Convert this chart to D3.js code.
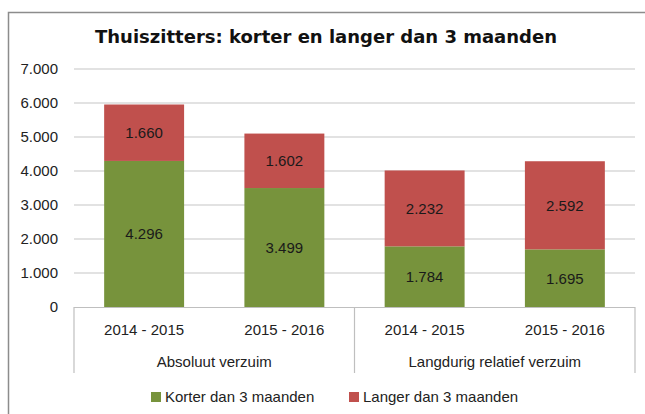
<!DOCTYPE html>
<html>
<head>
<meta charset="utf-8">
<script src="https://cdnjs.cloudflare.com/ajax/libs/d3/7.8.5/d3.min.js"></script>
<style>
  body { margin: 0; background: #fff; }
  svg text { font-family: "Liberation Sans", Arial, sans-serif; fill: #222; }
</style>
</head>
<body>
<div id="chart"></div>
<script>
// chart data
var categories = ["2014 - 2015", "2015 - 2016", "2014 - 2015", "2015 - 2016"];
var groups = ["Absoluut verzuim", "Langdurig relatief verzuim"];
var korter = [4296, 3499, 1784, 1695];
var langer = [1660, 1602, 2232, 2592];
var seriesNames = ["Korter dan 3 maanden", "Langer dan 3 maanden"];
var yTicks = [0, 1000, 2000, 3000, 4000, 5000, 6000, 7000];

var W = 645, H = 414;
var colors = ["#77933c", "#c0504d"];
var nl = d3.formatLocale({ decimal: ",", thousands: ".", grouping: [3], currency: ["€", ""] });
var fmt = nl.format(",");

var svg = d3.select("#chart").append("svg")
  .attr("width", W).attr("height", H);

// outer frame (only top and left visible)
svg.append("path")
  .attr("d", "M8.5," + (H + 2) + "V12.5H" + (W + 2))
  .attr("fill", "none").attr("stroke", "#8c8c8c").attr("stroke-width", 1.5);

// title
svg.append("text")
  .attr("x", 326).attr("y", 43)
  .attr("text-anchor", "middle")
  .style("font-family", "'DejaVu Sans', Verdana, sans-serif")
  .style("font-weight", "bold").style("font-size", "18px")
  .style("fill", "#111")
  .text("Thuiszitters: korter en langer dan 3 maanden");

var left = 74, right = 635;
var x = d3.scaleBand().domain(d3.range(categories.length))
  .range([left, right]).paddingInner(0.43).paddingOuter(0.215);
var y = d3.scaleLinear().domain([0, 7000]).range([307, 69]);

// gridlines
svg.append("g").selectAll("line")
  .data(yTicks.filter(function (d) { return d > 0; }))
  .enter().append("line")
  .attr("x1", left).attr("x2", right)
  .attr("y1", function (d) { return y(d); }).attr("y2", function (d) { return y(d); })
  .attr("stroke", "#d9d9d9").attr("stroke-width", 1.5);

// y axis labels
var yAxis = svg.append("g")
  .attr("transform", "translate(" + left + ",0)")
  .call(d3.axisLeft(y).tickValues(yTicks).tickSize(0).tickPadding(16).tickFormat(fmt));
yAxis.select(".domain").remove();
yAxis.selectAll("text").style("font-size", "15px").style("fill", "#222")
  .style("font-family", "'Liberation Sans', Arial, sans-serif");

// stacked bars
var stackData = categories.map(function (c, i) { return { i: i, korter: korter[i], langer: langer[i] }; });
var stack = d3.stack().keys(["korter", "langer"])(stackData);

var layers = svg.append("g").selectAll("g")
  .data(stack).enter().append("g")
  .attr("fill", function (d, k) { return colors[k]; });

layers.selectAll("rect")
  .data(function (d) { return d; })
  .enter().append("rect")
  .attr("x", function (d) { return x(d.data.i); })
  .attr("width", x.bandwidth())
  .attr("y", function (d) { return y(d[1]); })
  .attr("height", function (d) { return y(d[0]) - y(d[1]); });

layers.selectAll("text")
  .data(function (d) { return d; })
  .enter().append("text")
  .attr("x", function (d) { return x(d.data.i) + x.bandwidth() / 2; })
  .attr("y", function (d) { return (y(d[0]) + y(d[1])) / 2; })
  .attr("dy", "0.36em")
  .attr("text-anchor", "middle")
  .style("font-size", "15px").style("fill", "#1a1a1a")
  .text(function (d) { return fmt(d[1] - d[0]); });

// x axis (two levels)
var axis = svg.append("g").attr("stroke", "#bfbfbf").attr("stroke-width", 1.2);
axis.append("line").attr("x1", left).attr("x2", right).attr("y1", 307.5).attr("y2", 307.5);
var seps = [left, (x(1) + x.bandwidth() + x(2)) / 2, right];
axis.selectAll("line.sep").data(seps).enter().append("line")
  .attr("class", "sep")
  .attr("x1", function (d) { return d; }).attr("x2", function (d) { return d; })
  .attr("y1", 307).attr("y2", 373);

svg.append("g").selectAll("text")
  .data(categories).enter().append("text")
  .attr("x", function (d, i) { return x(i) + x.bandwidth() / 2; })
  .attr("y", 330).attr("dy", "0.36em")
  .attr("text-anchor", "middle").style("font-size", "15px")
  .text(function (d) { return d; });

svg.append("g").selectAll("text")
  .data(groups).enter().append("text")
  .attr("x", function (d, g) { return (seps[g] + seps[g + 1]) / 2; })
  .attr("y", 362).attr("dy", "0.36em")
  .attr("text-anchor", "middle").style("font-size", "15px")
  .text(function (d) { return d; });

// legend
var legendX = [151, 349];
var leg = svg.append("g").selectAll("g")
  .data(seriesNames).enter().append("g")
  .attr("transform", function (d, i) { return "translate(" + legendX[i] + ",397)"; });
leg.append("rect").attr("x", 0).attr("y", -5).attr("width", 10).attr("height", 10)
  .attr("fill", function (d, i) { return colors[i]; });
leg.append("text").attr("x", 14).attr("dy", "0.36em")
  .style("font-size", "15px")
  .text(function (d) { return d; });
</script>
</body>
</html>
